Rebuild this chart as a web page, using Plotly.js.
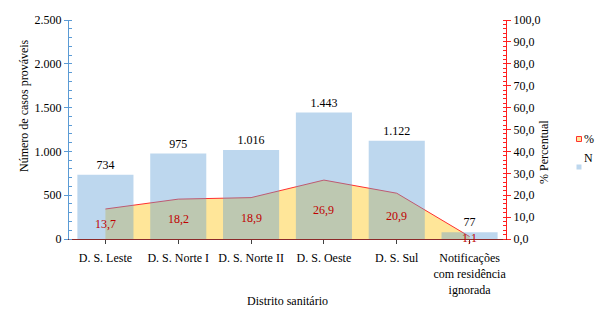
<!DOCTYPE html>
<html>
<head>
<meta charset="utf-8">
<script src="https://cdn.plot.ly/plotly-3.0.1.min.js"></script>
<style>html,body{margin:0;padding:0;background:#fff;}#chart{width:595px;height:309px;}</style>
</head>
<body>
<div id="chart"></div>
<script>
const categories = ["D. S. Leste", "D. S. Norte I", "D. S. Norte II", "D. S. Oeste", "D. S. Sul", "Notificações<br>com residência<br>ignorada"];
const casos = [734, 975, 1016, 1443, 1122, 77];
const percentual = [13.7, 18.2, 18.9, 26.9, 20.9, 1.1];
const leftTicks = [0, 500, 1000, 1500, 2000, 2500];
const legendNames = ["%", "N"];

const FONT = "Liberation Serif, Times New Roman, serif";
const FS = 12;
const BLUE_AXIS = "#5b9bd5";
const RED_AXIS = "#ff2020";
const AREA_FILL = "#ffe699";
const AREA_LINE = "#ff3030";
const BAR_FILL = "rgba(91,155,213,0.4)";

const M = {l: 69, r: 89, t: 20, b: 70};
const W = 595, H = 309;
const PW = W - M.l - M.r, PH = H - M.t - M.b;
const px = x => (x - M.l) / PW;
const py = y => (H - M.b - y) / PH;

const traces = [
  {
    type: "scatter", x: categories, y: percentual, yaxis: "y",
    mode: "lines", fill: "tozeroy", fillcolor: AREA_FILL,
    line: {color: AREA_LINE, width: 1}, showlegend: false, hoverinfo: "skip"
  },
  {
    type: "bar", x: categories, y: casos, yaxis: "y2",
    marker: {color: BAR_FILL},
    text: casos.map(v => v.toLocaleString("de-DE")), textposition: "outside",
    textfont: {family: FONT, size: FS, color: "#000"}, cliponaxis: false,
    showlegend: false, hoverinfo: "skip"
  }
];

const annotations = categories.map((c, i) => ({
  x: c, y: percentual[i] / 2, xref: "x", yref: "y",
  text: percentual[i].toFixed(1).replace(".", ","), showarrow: false,
  font: {family: FONT, size: FS, color: "#c00000"}
}));
annotations.push(
  {x: px(15), y: py(106), xref: "paper", yref: "paper", text: "Número de casos prováveis",
   textangle: -90, showarrow: false, font: {family: FONT, size: FS, color: "#000"}},
  {x: px(553), y: py(152), xref: "paper", yref: "paper", text: "% Percentual",
   textangle: -90, showarrow: false, font: {family: FONT, size: FS, color: "#000"}},
  {x: px(582), y: py(139), xref: "paper", yref: "paper", text: legendNames[0], xanchor: "left",
   showarrow: false, font: {family: FONT, size: FS, color: "#000"}},
  {x: px(582), y: py(167), xref: "paper", yref: "paper", text: legendNames[1], xanchor: "left",
   showarrow: false, font: {family: FONT, size: FS, color: "#000"}}
);

const shapes = [
  {type: "rect", xref: "paper", yref: "paper", x0: px(576.5), x1: px(581.5), y0: py(141.5), y1: py(136.5),
   fillcolor: AREA_FILL, line: {color: AREA_LINE, width: 1}},
  {type: "rect", xref: "paper", yref: "paper", x0: px(576.5), x1: px(581.5), y0: py(169.5), y1: py(164.5),
   fillcolor: BAR_FILL, line: {width: 0}}
];

const layout = {
  width: W, height: H,
  margin: {l: M.l, r: M.r, t: M.t, b: M.b, autoexpand: false},
  paper_bgcolor: "#fff", plot_bgcolor: "rgba(0,0,0,0)",
  separators: ",.",
  font: {family: FONT, size: FS, color: "#000"},
  bargap: 0.23,
  showlegend: false,
  annotations: annotations,
  shapes: shapes,
  xaxis: {
    type: "category", showgrid: false, showline: true, linecolor: "#8c2a2a", linewidth: 1,
    ticks: "outside", ticklen: 4, tickcolor: "#404040", tickangle: 0, ticklabelstandoff: 4,
    tickfont: {family: FONT, size: FS},
    title: {text: "Distrito sanitário", font: {family: FONT, size: FS}, standoff: 1}
  },
  yaxis: {
    side: "right", range: [0, 100], dtick: 10, tickformat: ".1f",
    showgrid: false, zeroline: false, showline: true, linecolor: RED_AXIS, linewidth: 1,
    ticks: "outside", ticklen: 4, tickcolor: RED_AXIS,
    minor: {dtick: 2, ticks: "inside", ticklen: 3, tickcolor: RED_AXIS},
    tickfont: {family: FONT, size: FS}
  },
  yaxis2: {
    overlaying: "y", side: "left", range: [0, 2500], tickvals: leftTicks,
    ticktext: leftTicks.map(v => v.toLocaleString("de-DE")),
    showgrid: false, zeroline: false, showline: true, linecolor: BLUE_AXIS, linewidth: 1,
    ticks: "outside", ticklen: 4, tickcolor: BLUE_AXIS,
    minor: {dtick: 100, ticks: "inside", ticklen: 3, tickcolor: BLUE_AXIS},
    tickfont: {family: FONT, size: FS}
  }
};

Plotly.newPlot("chart", traces, layout, {staticPlot: true, displayModeBar: false});
</script>
</body>
</html>
